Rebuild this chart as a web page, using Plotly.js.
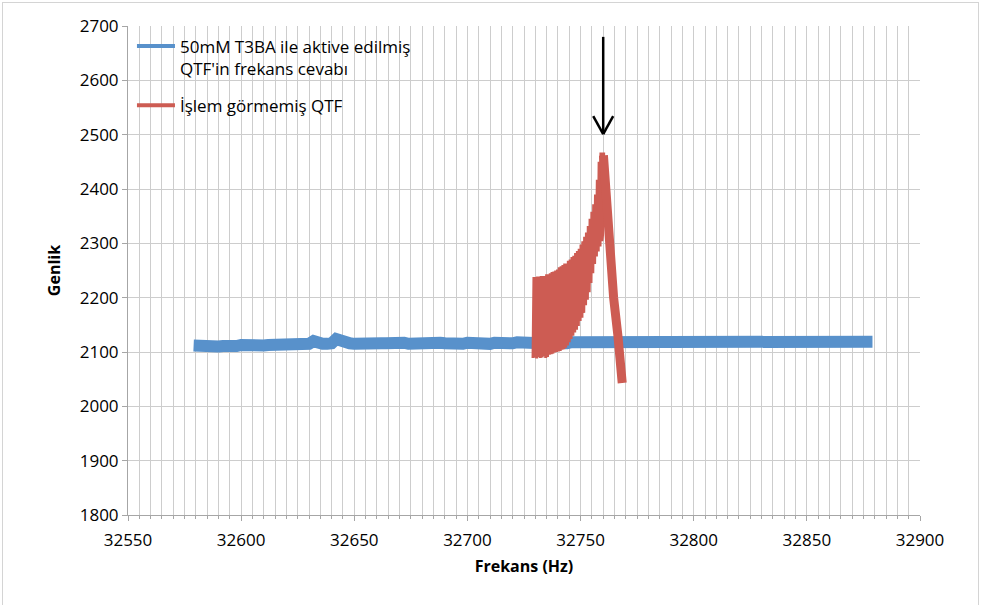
<!DOCTYPE html>
<html>
<head>
<meta charset="utf-8">
<script src="https://cdn.plot.ly/plotly-3.0.1.min.js"></script>
<style>
html,body{margin:0;padding:0;background:#fff;}
#frame{position:absolute;left:2px;top:2px;width:977px;height:606px;border:1px solid #d4d4d4;box-sizing:border-box;pointer-events:none;}
#chart{position:absolute;left:0;top:0;width:981px;height:605px;}
</style>
</head>
<body>
<div id="chart"></div>
<div id="frame"></div>
<script>
// ---- data ----
const seriesNames = ["50mM T3BA ile aktive edilmiş<br>QTF'in frekans cevabı", "İşlem görmemiş QTF"];

// Series 1 (blue): treated QTF, read about every 2 Hz
const blueFreq = [
 32579,32582,32584,32586,32588,32590,32592,32594,32596,32598,
 32600,32602,32604,32606,32608,32610,32612,32614,32616,32618,
 32620,32622,32624,32626,32628,32630,32632,32634,32636,32638,
 32640,32642,32644,32646,32648,32650,32652,32654,32656,32658,
 32660,32662,32664,32666,32668,32670,32672,32674,32676,32678,
 32680,32682,32684,32686,32688,32690,32692,32694,32696,32698,
 32700,32702,32704,32706,32708,32710,32712,32714,32716,32718,
 32720,32722,32724,32726,32728,32730,32732,32734,32736,32738,
 32740,32742,32744,32746,32748,32750,32752,32754,32756,32758,
 32760,32762,32764,32766,32768,32770,32772,32774,32776,32778,
 32780,32782,32784,32786,32788,32790,32792,32794,32796,32798,
 32800,32802,32804,32806,32808,32810,32812,32814,32816,32818,
 32820,32822,32824,32826,32828,32830,32832,32834,32836,32838,
 32840,32842,32844,32846,32848,32850,32852,32854,32856,32858,
 32860,32862,32864,32866,32868,32870,32872,32874,32876,32878,
 32879];
const blueAmp = [
 2112,2110,2109,2110,2108,2110,2111,2110,2112,2111,
 2113,2112,2113,2112,2113,2112,2113,2113,2112,2113,
 2113,2114,2113,2114,2114,2115,2120,2115,2115,2115,
 2116,2124,2120,2116,2116,2115,2116,2115,2116,2116,
 2115,2116,2116,2117,2115,2116,2117,2115,2116,2117,
 2116,2115,2117,2116,2117,2116,2115,2117,2116,2115,
 2117,2116,2117,2116,2117,2115,2117,2116,2117,2117,
 2116,2118,2117,2116,2117,2118,2116,2118,2117,2118,
 2117,2118,2116,2118,2118,2117,2118,2116,2118,2117,
 2118,2117,2118,2116,2118,2117,2118,2118,2116,2118,
 2117,2118,2118,2117,2118,2116,2118,2121,2117,2118,
 2118,2117,2118,2116,2118,2118,2117,2118,2117,2118,
 2118,2116,2118,2117,2118,2117,2118,2116,2118,2118,
 2117,2118,2118,2117,2118,2116,2118,2118,2117,2118,
 2118,2118,2117,2118,2118,2119,2118,2118,2119,2119,
 2119];

// Series 2 (red): untreated QTF — oscillating rise up to the resonance peak
const redFreq = [
 32729.0,32729.4,32729.8,32730.2,32730.6,32731.0,32731.4,32731.8,32732.2,32732.6,
 32733.0,32733.4,32733.8,32734.2,32734.6,32735.0,32735.4,32735.8,32736.2,32736.6,
 32737.0,32737.4,32737.8,32738.2,32738.6,32739.0,32739.4,32739.8,32740.2,32740.6,
 32741.0,32741.4,32741.8,32742.2,32742.6,32743.0,32743.4,32743.8,32744.2,32744.6,
 32745.0,32745.4,32745.8,32746.2,32746.6,32747.0,32747.4,32747.8,32748.2,32748.6,
 32749.0,32749.4,32749.8,32750.2,32750.6,32751.0,32751.4,32751.8,32752.2,32752.6,
 32753.0,32753.4,32753.8,32754.2,32754.6,32755.0,32755.4,32755.8,32756.2,32756.6,
 32757.0,32757.4,32757.8,32758.2,32758.6,32759.0,32759.4,32759.7,32760.2];
const redAmp = [
 2089,2238,2090,2238,2088,2239,2091,2239,2089,2240,
 2090,2240,2092,2240,2089,2243,2091,2243,2095,2245,
 2096,2247,2097,2248,2099,2250,2100,2252,2101,2256,
 2102,2258,2104,2260,2105,2263,2108,2263,2112,2268,
 2118,2270,2124,2275,2130,2277,2136,2282,2141,2286,
 2148,2290,2157,2298,2163,2304,2172,2312,2186,2320,
 2196,2332,2210,2345,2227,2358,2245,2372,2262,2390,
 2276,2417,2285,2450,2294,2467,2304,2315,2467];
// Series 2 (red): fall after the peak (centre of the falling band)
const redFallFreq = [32760.1, 32761.2, 32762.6, 32764.6, 32766.5, 32767.6, 32768.4];
const redFallAmp  = [2462, 2390, 2290, 2200, 2130, 2080, 2043];

// axis ticks
const xTickVals = [32550,32600,32650,32700,32750,32800,32850,32900];
const yTickVals = [1800,1900,2000,2100,2200,2300,2400,2500,2600,2700];
const xTitle = "Frekans (Hz)";
const yTitle = "Genlik";

// arrow marker (points at the resonance peak)
const arrowFreq = 32760;
const arrowTop = 2680;
const arrowTip = 2501;

// ---- chart ----
const blueColor = "#5891cb";
const redColor = "#cd5c53";
const gridColor = "#cdcdcd";
const axisColor = "#a6a6a6";
const font = "Open Sans, Liberation Sans, sans-serif";

const traces = [
  {x: blueFreq, y: blueAmp, type: "scatter", mode: "lines", showlegend: false,
   line: {color: blueColor, width: 12}, hoverinfo: "skip"},
  {x: redFreq, y: redAmp, type: "scatter", mode: "lines", showlegend: false,
   line: {color: redColor, width: 3}, hoverinfo: "skip"},
  {x: redFallFreq, y: redFallAmp, type: "scatter", mode: "lines", showlegend: false,
   line: {color: redColor, width: 9}, hoverinfo: "skip"},
  {x: [null], y: [null], type: "scatter", mode: "lines", name: seriesNames[0], legendgroup: "a",
   line: {color: blueColor, width: 4}},
  {x: [null], y: [null], type: "scatter", mode: "lines", name: seriesNames[1], legendgroup: "b",
   line: {color: redColor, width: 4}}
];

const vx = 4.4, vy = 33;
const layout = {
  width: 981, height: 605,
  margin: {l: 128, r: 61, t: 26, b: 90},
  paper_bgcolor: "#fff", plot_bgcolor: "#fff",
  font: {family: font, size: 14, color: "#000"},
  showlegend: true,
  legend: {x: 0.005, y: 0.995, xanchor: "left", yanchor: "top", valign: "top",
           bgcolor: "rgba(0,0,0,0)", font: {family: font, size: 17, color: "#000"},
           traceorder: "grouped", tracegroupgap: 12, itemwidth: 38},
  xaxis: {
    range: [32550, 32900], tickvals: xTickVals, ticktext: xTickVals.map(String),
    showgrid: true, gridcolor: gridColor, gridwidth: 1,
    showline: true, linecolor: axisColor, linewidth: 1,
    ticks: "outside", ticklen: 5, tickcolor: axisColor, ticklabelstandoff: 5,
    minor: {dtick: 5, showgrid: true, gridcolor: gridColor, gridwidth: 1, ticks: "outside", ticklen: 3, tickcolor: axisColor},
    zeroline: false, tickfont: {family: font, size: 17},
    title: {text: "<b>" + xTitle + "</b>", font: {family: font, size: 16}, standoff: 10}
  },
  yaxis: {
    range: [1800, 2700], tickvals: yTickVals, ticktext: yTickVals.map(String),
    showgrid: true, gridcolor: gridColor, gridwidth: 1,
    showline: true, linecolor: axisColor, linewidth: 1,
    ticks: "outside", ticklen: 5, tickcolor: axisColor,
    zeroline: false, tickfont: {family: font, size: 17},
    title: {text: "<b>" + yTitle + "</b>", font: {family: font, size: 16}, standoff: 15}
  },
  shapes: [
    {type: "line", xref: "x", yref: "y", x0: arrowFreq, x1: arrowFreq, y0: arrowTop, y1: arrowTip, line: {color: "#000", width: 2.5}},
    {type: "line", xref: "x", yref: "y", x0: arrowFreq - vx, x1: arrowFreq, y0: arrowTip + vy, y1: arrowTip, line: {color: "#000", width: 2.5}},
    {type: "line", xref: "x", yref: "y", x0: arrowFreq + vx, x1: arrowFreq, y0: arrowTip + vy, y1: arrowTip, line: {color: "#000", width: 2.5}}
  ]
};

Plotly.newPlot("chart", traces, layout, {displayModeBar: false, staticPlot: true});
</script>
</body>
</html>
